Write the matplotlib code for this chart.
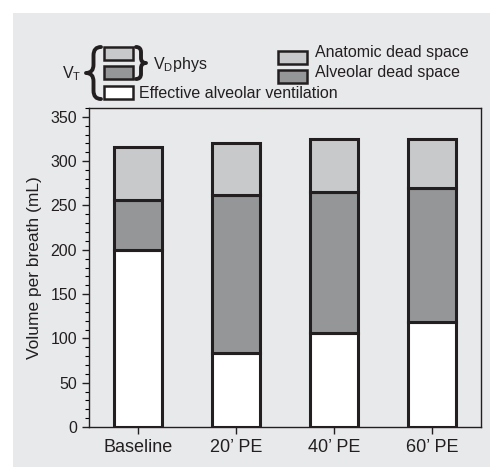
import matplotlib
matplotlib.use("Agg")
import matplotlib.pyplot as plt
from matplotlib.patches import Rectangle, PathPatch
from matplotlib.path import Path
from matplotlib.ticker import MultipleLocator

plt.rcParams["font.family"] = ["Liberation Sans", "DejaVu Sans"]

# Data
categories = ["Baseline", "20\u2019 PE", "40\u2019 PE", "60\u2019 PE"]
effective_alveolar = [200, 84, 106, 118]
alveolar_dead = [56, 178, 159, 152]
anatomic_dead = [60, 59, 60, 55]

# Colours
BG = "#e8e9eb"
ANAT = "#c8c9cb"
ALV = "#959698"
EDGE = "#231f20"
TEXT = "#231f20"

W, H = 490, 467
fig = plt.figure(figsize=(W / 100, H / 100), dpi=100)
fig.patch.set_facecolor("white")


def fx(px):
    return px / W


def fy(py):
    return 1 - py / H


# Gray panel behind everything
fig.add_artist(Rectangle((fx(13), 0), 1 - fx(13), fy(13), facecolor=BG,
                         edgecolor="none", transform=fig.transFigure, zorder=-10))

ax = fig.add_axes([fx(89), fy(427), fx(481) - fx(89), fy(108) - fy(427)])
ax.set_facecolor(BG)

x = list(range(len(categories)))
bw = 0.49
kw = dict(width=bw, edgecolor=EDGE, linewidth=2.2)
ax.bar(x, effective_alveolar, color="white", **kw)
bottom2 = effective_alveolar
ax.bar(x, alveolar_dead, bottom=bottom2, color=ALV, **kw)
bottom3 = [a + b for a, b in zip(effective_alveolar, alveolar_dead)]
ax.bar(x, anatomic_dead, bottom=bottom3, color=ANAT, **kw)

ax.set_xlim(-0.5, 3.5)
ax.set_ylim(0, 360)
ax.set_xticks(x)
ax.set_xticklabels(categories, fontsize=13, color=TEXT)
ax.yaxis.set_major_locator(MultipleLocator(50))
ax.yaxis.set_minor_locator(MultipleLocator(10))
ax.tick_params(axis="y", labelsize=11.5, colors=TEXT, length=5, width=1)
ax.tick_params(axis="y", which="minor", length=3, width=0.8)
ax.tick_params(axis="x", length=5, width=1, colors=TEXT)
ax.set_ylabel("Volume per breath (mL)", fontsize=12.5, color=TEXT, labelpad=6)
for s in ax.spines.values():
    s.set_linewidth(1.0)
    s.set_color(EDGE)


# Legend (custom drawn)
def swatch(x0, y0, color):
    fig.add_artist(Rectangle((fx(x0), fy(y0 + 13)), fx(29), 13 / H,
                             facecolor=color, edgecolor=EDGE, linewidth=1.8,
                             transform=fig.transFigure))


def brace(x_end, x_tip, y_top, y_bot):
    # curly brace in pixel coords; tip points toward x_tip
    xm = (x_end + x_tip) / 2
    ym = (y_top + y_bot) / 2
    r = (y_bot - y_top) * 0.16
    pts = [(x_end, y_top), (xm, y_top), (xm, y_top + r),
           (xm, ym - r),
           (xm, ym), (x_tip, ym),
           (xm, ym), (xm, ym + r),
           (xm, y_bot - r),
           (xm, y_bot), (x_end, y_bot)]
    codes = [Path.MOVETO, Path.CURVE3, Path.CURVE3, Path.LINETO,
             Path.CURVE3, Path.CURVE3, Path.CURVE3, Path.CURVE3,
             Path.LINETO, Path.CURVE3, Path.CURVE3]
    verts = [(fx(px), fy(py)) for px, py in pts]
    fig.add_artist(PathPatch(Path(verts, codes), facecolor="none", edgecolor=EDGE,
                             linewidth=2.8, capstyle="round", joinstyle="round",
                             transform=fig.transFigure))


swatch(104, 47, ANAT)
swatch(104, 66, ALV)
swatch(104, 86, "white")
swatch(278, 51, ANAT)
swatch(278, 70, ALV)

brace(101, 86, 47, 99)
brace(136, 146, 47, 79)

fig.text(fx(62), fy(74), r"V$_\mathregular{T}$", fontsize=11.5, color=TEXT,
         va="center", ha="left")
fig.text(fx(153), fy(64), r"V$_\mathregular{D}$phys", fontsize=11.5, color=TEXT,
         va="center", ha="left")
fig.text(fx(139), fy(93), "Effective alveolar ventilation", fontsize=11.5,
         color=TEXT, va="center", ha="left")
fig.text(fx(315), fy(53), "Anatomic dead space", fontsize=11.5, color=TEXT,
         va="center", ha="left")
fig.text(fx(315), fy(72), "Alveolar dead space", fontsize=11.5, color=TEXT,
         va="center", ha="left")

fig.savefig("out.png", dpi=100, facecolor=fig.get_facecolor())
